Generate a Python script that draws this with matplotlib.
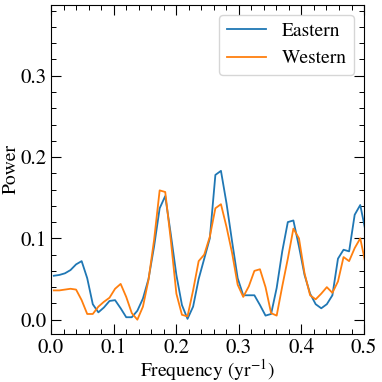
import numpy as np
import matplotlib
matplotlib.use('Agg')
import matplotlib.pyplot as plt
from matplotlib.ticker import MultipleLocator

# periodogram power, one value per frequency bin
eastern = [0.054, 0.055, 0.057, 0.061, 0.068, 0.072, 0.051, 0.019, 0.009, 0.015,
           0.023, 0.024, 0.014, 0.003, 0.003, 0.011, 0.026, 0.050, 0.090, 0.137,
           0.152, 0.105, 0.055, 0.018, 0.001, 0.016, 0.050, 0.075, 0.100, 0.178,
           0.183, 0.143, 0.096, 0.051, 0.030, 0.030, 0.030, 0.018, 0.005, 0.007,
           0.039, 0.084, 0.120, 0.122, 0.090, 0.055, 0.032, 0.019, 0.014, 0.019,
           0.030, 0.075, 0.086, 0.084, 0.129, 0.141, 0.107]
western = [0.036, 0.036, 0.037, 0.038, 0.037, 0.024, 0.007, 0.007, 0.016, 0.022,
           0.027, 0.038, 0.044, 0.028, 0.008, 0.000, 0.016, 0.049, 0.098, 0.159,
           0.157, 0.098, 0.032, 0.006, 0.004, 0.036, 0.072, 0.080, 0.102, 0.137,
           0.142, 0.114, 0.082, 0.043, 0.028, 0.041, 0.060, 0.062, 0.040, 0.008,
           0.005, 0.041, 0.075, 0.112, 0.100, 0.057, 0.030, 0.025, 0.032, 0.040,
           0.033, 0.047, 0.077, 0.072, 0.088, 0.100, 0.067]

# frequency grid (yr^-1), half-bin offset
df = 0.0089
freq = (np.arange(len(eastern)) + 0.5) * df

plt.rcParams['font.family'] = ['STIXGeneral', 'Liberation Serif', 'DejaVu Serif']
plt.rcParams['mathtext.fontset'] = 'stix'
plt.rcParams['font.size'] = 15

fig = plt.figure(figsize=(3.82, 3.82), dpi=100)
ax = fig.add_axes([0.1335, 0.1257, 0.8195, 0.8613])

ax.plot(freq, eastern, color='#1f77b4', lw=1.3, label='Eastern')
ax.plot(freq, western, color='#ff7f0e', lw=1.3, label='Western')

ax.set_xlim(0, 0.5)
ax.set_ylim(-0.0176, 0.387)
ax.xaxis.set_major_locator(MultipleLocator(0.1))
ax.xaxis.set_minor_locator(MultipleLocator(0.02))
ax.yaxis.set_major_locator(MultipleLocator(0.1))
ax.yaxis.set_minor_locator(MultipleLocator(0.02))
ax.tick_params(which='both', direction='in', top=True, right=True)
ax.tick_params(which='major', length=7, width=0.8, pad=3)
ax.tick_params(which='minor', length=3.5, width=0.7)
for s in ax.spines.values():
    s.set_linewidth(0.8)

ax.set_xlabel(r'Frequency (yr$^{-1}$)', fontsize=14)
ax.set_ylabel('Power', fontsize=14)
ax.xaxis.set_label_coords(0.5, -0.07)
ax.yaxis.set_label_coords(-0.10, 0.5)
ax.legend(loc='upper right', fontsize=14)

fig.savefig('out.png', dpi=100)
